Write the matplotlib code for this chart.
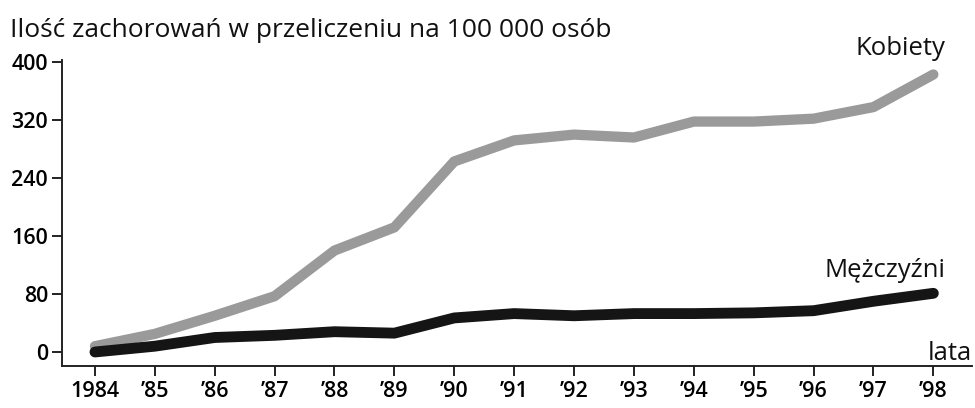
import matplotlib.pyplot as plt

years = list(range(1984, 1999))
year_labels = ["1984", "\u201985", "\u201986", "\u201987", "\u201988", "\u201989", "\u201990",
               "\u201991", "\u201992", "\u201993", "\u201994", "\u201995", "\u201996",
               "\u201997", "\u201998"]
kobiety = [8, 25, 50, 77, 140, 172, 263, 292, 300, 296, 318, 318, 322, 338, 383]
mezczyzni = [0, 8, 20, 23, 28, 26, 47, 53, 50, 53, 53, 54, 57, 70, 81]
y_ticks = [0, 80, 160, 240, 320, 400]

plt.rcParams['font.family'] = ['Open Sans', 'DejaVu Sans']

fig = plt.figure(figsize=(9.75, 4.08), dpi=100)
ax = fig.add_axes([0.0636, 0.103, 0.933, 0.75])

ax.plot(years, kobiety, color="#9a9a9a", lw=7.4, solid_capstyle="round", solid_joinstyle="round")
ax.plot(years, mezczyzni, color="#151515", lw=7.8, solid_capstyle="round", solid_joinstyle="round")

ax.set_xlim(1983.45, 1998.64)
ax.set_ylim(-19.3, 403)

ax.set_xticks(years)
ax.set_xticklabels(year_labels, fontsize=15.5, fontweight="semibold")
ax.set_yticks(y_ticks)
ax.set_yticklabels([str(v) for v in y_ticks], fontsize=15.5, fontweight="semibold")

for s in ["top", "right"]:
    ax.spines[s].set_visible(False)
for s in ["left", "bottom"]:
    ax.spines[s].set_linewidth(1.4)
    ax.spines[s].set_color("#222222")
ax.tick_params(axis="both", direction="out", length=7, width=1.4, color="#222222")
ax.tick_params(axis="x", pad=4)
ax.tick_params(axis="y", pad=3)

fig.text(0.01, 0.925, "Ilość zachorowań w przeliczeniu na 100 000 osób", fontsize=19,
         ha="left", va="center", color="#111111")
ax.text(1998.2, 419, "Kobiety", fontsize=18.5, ha="right", va="center", color="#111111")
ax.text(1998.2, 113, "Mężczyźni", fontsize=18.5, ha="right", va="center", color="#111111")
ax.text(1998.64, -2, "lata", fontsize=18.5, ha="right", va="center", color="#111111")

fig.savefig("out.png", dpi=100)
